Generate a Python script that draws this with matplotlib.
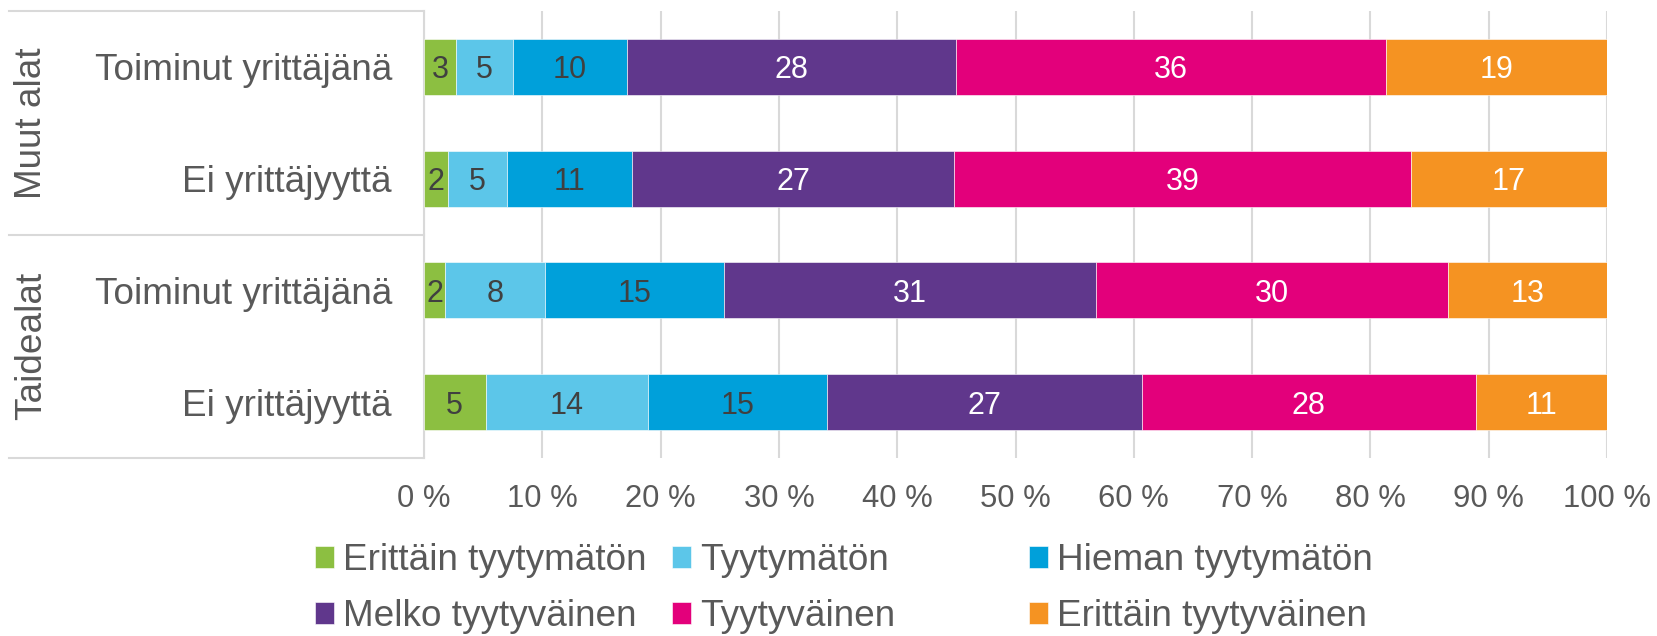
import matplotlib
matplotlib.use("Agg")
import matplotlib.pyplot as plt
import matplotlib.transforms as mtrans
import numpy as np

plt.rcParams['font.family'] = ['Liberation Sans', 'DejaVu Sans']

groups = ["Muut alat", "Taidealat"]
categories = ["Toiminut yrittäjänä", "Ei yrittäjyyttä", "Toiminut yrittäjänä", "Ei yrittäjyyttä"]
series = ["Erittäin tyytymätön", "Tyytymätön", "Hieman tyytymätön",
          "Melko tyytyväinen", "Tyytyväinen", "Erittäin tyytyväinen"]
erittain_tyytymaton = [2.7, 2.0, 1.8, 5.2]
tyytymaton = [4.8, 5.0, 8.4, 13.7]
hieman_tyytymaton = [9.7, 10.6, 15.2, 15.2]
melko_tyytyvainen = [27.8, 27.2, 31.4, 26.6]
tyytyvainen = [36.3, 38.6, 29.8, 28.2]
erittain_tyytyvainen = [18.7, 16.6, 13.4, 11.1]
values = [erittain_tyytymaton, tyytymaton, hieman_tyytymaton,
          melko_tyytyvainen, tyytyvainen, erittain_tyytyvainen]
x_ticks = [0, 10, 20, 30, 40, 50, 60, 70, 80, 90, 100]
x_tick_labels = [f"{t} %" for t in x_ticks]

colors = ["#8CBF41", "#5CC6E9", "#00A0DA", "#60378C", "#E3007B", "#F59322"]
label_colors = ["#404040", "#404040", "#404040", "white", "white", "white"]
text_gray = "#595959"
grid_gray = "#D9D9D9"

W, H = 1657, 636
fig = plt.figure(figsize=(W / 100, H / 100), dpi=100)
ax_l, ax_r, ax_t, ax_b = 424, 1607, 11, 458
ax = fig.add_axes([ax_l / W, 1 - ax_b / H, (ax_r - ax_l) / W, (ax_b - ax_t) / H])

y = np.arange(len(categories))
left = np.zeros(len(categories))
containers = []
for vals, col, lc, name in zip(values, colors, label_colors, series):
    vals = np.array(vals)
    bc = ax.barh(y, vals, left=left, height=0.5, color=col, edgecolor="white",
                 linewidth=0.4, label=name, zorder=3)
    containers.append(bc)
    texts = ax.bar_label(bc, labels=[f"{v:.0f}" for v in vals], label_type="center",
                         color=lc, fontsize=22)
    for t in texts:
        t.set_verticalalignment("center_baseline")
    left += vals

ax.set_xlim(0, 100)
ax.set_ylim(len(categories) - 0.5, -0.5)
ax.set_xticks(x_ticks)
ax.set_xticklabels(x_tick_labels, fontsize=22.3, color=text_gray)
ax.set_yticks(y)
ax.set_yticklabels(categories, fontsize=26.6, color=text_gray)
ax.tick_params(axis="x", length=0, pad=19)
ax.tick_params(axis="y", length=0, pad=23)
ax.grid(axis="x", color=grid_gray, linewidth=1.5, zorder=0)
for s in ["top", "right", "bottom"]:
    ax.spines[s].set_visible(False)
ax.spines["left"].set_color(grid_gray)
ax.spines["left"].set_linewidth(1.5)

# multi-level category box
trans = mtrans.blended_transform_factory(ax.transAxes, ax.transData)
x_box = (9 - ax_l) / (ax_r - ax_l)
for yy in [-0.5, 1.5, 3.5]:
    ax.plot([x_box, 0], [yy, yy], color=grid_gray, linewidth=1.5,
            transform=trans, clip_on=False)
x_grp = (32 - ax_l) / (ax_r - ax_l)
for i, g in enumerate(groups):
    ax.text(x_grp, 2 * i + 0.5, g, rotation=90, ha="center", va="center",
            fontsize=26.6, color=text_gray, transform=trans)

# legend: three columns
col_x = [315, 672, 1029]
for c in range(3):
    hs = [containers[c], containers[c + 3]]
    ls = [series[c], series[c + 3]]
    fig.legend(hs, ls, loc="center left",
               bbox_to_anchor=(col_x[c] / W, 1 - 588.5 / H),
               frameon=False, fontsize=26.6, labelcolor=text_gray,
               handlelength=0.52, handleheight=0.52, handletextpad=0.25,
               labelspacing=0.57, borderpad=0, borderaxespad=0)

fig.savefig("out.png", dpi=100)
